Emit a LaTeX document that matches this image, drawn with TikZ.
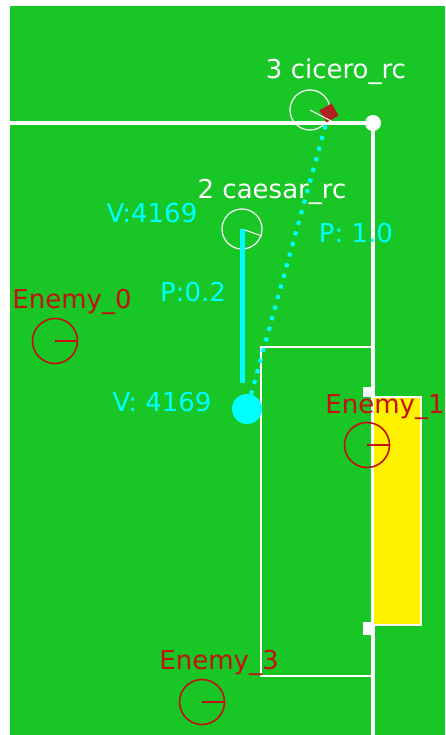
\documentclass[tikz,border=0pt]{standalone}
\usepackage{fontspec}
\setmainfont{DejaVu Sans}
\usepackage{xcolor}
\usetikzlibrary{positioning}

\definecolor{field}{RGB}{24,198,38}
\definecolor{enemyred}{RGB}{196,16,16}
\definecolor{ballred}{RGB}{176,32,32}
\definecolor{plan}{RGB}{0,255,255}

\begin{document}
\begin{tikzpicture}[x=1pt, y=-1pt,
  robot/.style={draw=white, circle, line width=1.2pt, minimum size=40pt, inner sep=0pt},
  enemy/.style={draw=enemyred, circle, line width=1.6pt, minimum size=45pt, inner sep=0pt},
  tag/.style={inner sep=0pt, font=\fontsize{26}{26}\selectfont, text=#1},
  wall/.style={white, line width=3.4pt},
]
  \useasboundingbox (0,0) rectangle (445,735);
  \fill[white] (0,0) rectangle (445,735);
  \fill[field] (10,6) rectangle (445,735);

  % field lines
  \node[circle, fill=white, minimum size=16pt, inner sep=0pt] (corner) at (373,123) {};
  \draw[wall] (10,123) -- (corner.center) -- (373,735);
  \draw[white, line width=1.3pt] (373,347) -- (261,347) -- (261,676) -- (373,676);
  \fill[white] (363,387) rectangle (373,397);
  \fill[white] (363,622) rectangle (373,635);
  \draw[white, line width=2pt, fill=yellow] (373,397) rectangle (421,625);

  % own robots
  \node[robot] (cicero) at (310,110) {};
  \node[fill=ballred, minimum size=14pt, inner sep=0pt, rotate=30] (ball) at (329,113) {};
  \draw[white, line width=1pt] (cicero.center) -- (333,122);
  \node[tag=white] (ciceroname) at (336,72) {3 cicero\_rc};

  \node[robot] (caesar) at (242,229) {};
  \draw[white, line width=1pt] (caesar.center) -- (262,236);
  \node[tag=white] (caesarname) at (272,192) {2 caesar\_rc};

  % planned pass
  \node[circle, fill=plan, minimum size=30pt, inner sep=0pt] (target) at (247,409) {};
  \coordinate (runend) at (242,383);
  \draw[plan, line width=5pt] (caesar.center) -- (runend);
  \draw[plan, line width=4pt, dash pattern=on 4pt off 7pt] (target) -- (ball);
  \node[tag=plan] (vtop) at (152,213) {V:4169};
  \node[tag=plan] (pcaesar) at (193,292) {P:0.2};
  \node[tag=plan] (ptarget) at (356,233) {P: 1.0};
  \node[tag=plan] (vtarget) at (162,402) {V: 4169};

  % enemies
  \node[enemy] (enemy0) at (55,341) {};
  \draw[enemyred, line width=1.6pt] (enemy0.center) -- (enemy0.east);
  \node[tag=enemyred] (enemy0name) at (72,302) {Enemy\_0};

  \node[enemy] (enemy1) at (367,445) {};
  \draw[enemyred, line width=1.6pt] (enemy1.center) -- (enemy1.east);
  \node[tag=enemyred] (enemy1name) at (385,407) {Enemy\_1};

  \node[enemy] (enemy3) at (202,702) {};
  \draw[enemyred, line width=1.6pt] (enemy3.center) -- (enemy3.east);
  \node[tag=enemyred] (enemy3name) at (219,663) {Enemy\_3};
\end{tikzpicture}
\end{document}
